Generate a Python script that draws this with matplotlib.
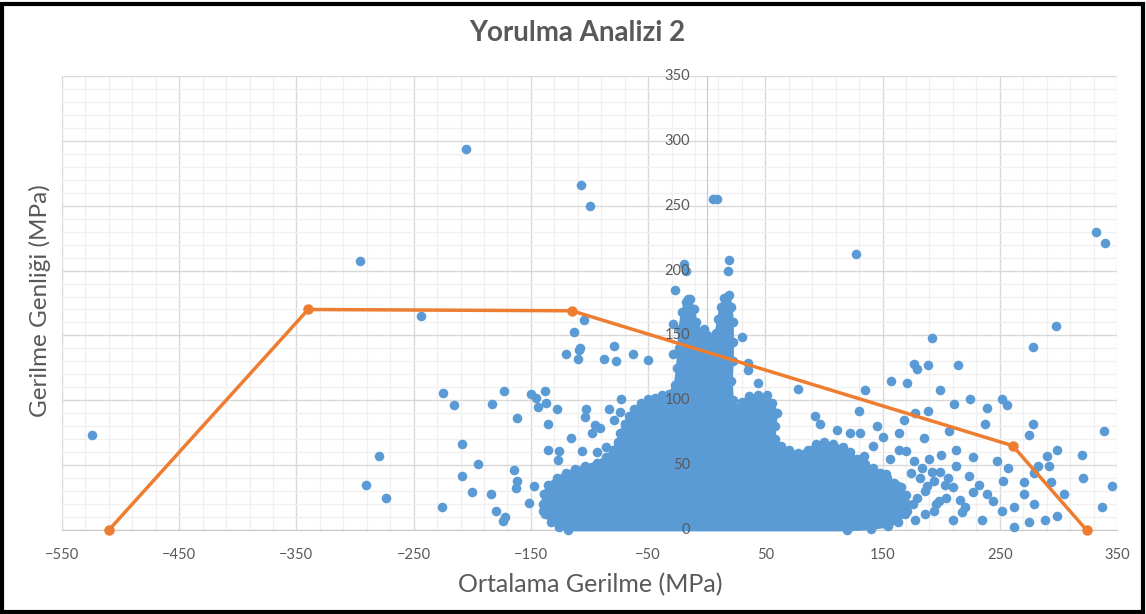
import matplotlib.pyplot as plt
from matplotlib.patches import Rectangle
from matplotlib.transforms import offset_copy

# fatigue limit line (orange)
limit_x = [-510, -340, -115, 261, 324]
limit_y = [0, 170, 169, 65, 0]

# outline of the dense point cloud around zero mean stress
core_x = [-118, -126, -133, -138, -140, -139, -135, -128, -120, -112, -104, -94, -86,
          -80, -76, -74, -70, -66, -62, -56, -50, -44, -38, -32, -27, -25, -24, -23,
          -21, -18, -14, -11, -9, -5, 0, 4, 8, 10, 12, 15, 19, 21, 22, 22, 22, 21, 22,
          25, 30, 36, 44, 51, 56, 60, 58, 58, 63, 70, 78, 86, 93, 100, 108, 116, 122,
          128, 135, 142, 148, 154, 160, 166, 170, 171, 169, 163, 155, 140, 120]
core_y = [0, 2, 6, 12, 20, 28, 35, 40, 44, 47, 49, 52, 56,
          62, 68, 75, 82, 88, 93, 98, 101, 102, 104, 105, 112, 125, 140, 155,
          168, 176, 178, 170, 160, 153, 150, 146, 152, 163, 172, 179, 181, 172, 160, 145, 130, 115, 100,
          94, 99, 103, 104, 104, 98, 90, 80, 70, 65, 62, 59, 62, 66, 68, 66, 64, 60,
          55, 51, 48, 44, 40, 36, 33, 27, 20, 12, 6, 3, 1, 0]

# individual points outside the dense cloud
pts_x = [-524, -296, -205, -107, -100, -244, -105, -113,
         -280, -291, -274, -225, -216, -209, -209, -195, -200, -226, -184, -180, -174, -172,
         -183, -173, -162, -164, -162, -163, -152, -147, -150, -146, -138, -137, -144, -128,
         -135, -135, -126, -127, -116, -106, -94, -86, -104, -103, -98, -95, -91, -83, -74,
         -79, -73, -70, -120, -110, -108, -88, -79, -77, -63, -140, -139, -109, -50, -29,
         5, 9, -19, -18, 19, 18, -27, -16, 17, -29, -2, 30, 35, 35, 44, 78,
         127, 332, 340, 298, 278, 192, 177, 179, 189, 214, 157, 171, 199, 135,
         130, 178, 189, 211, 225, 239, 252, 256, 278, 275, 237, 207, 185, 168, 164, 92, 97,
         299, 320, 339, 321, 346, 337, 305, 292, 299, 289, 275, 262, 248, 257, 253, 271, 279,
         283, 294, 279, 271, 262, 252, 239, 235, 224, 227, 213, 200, 190, 177, 164, 170, 199,
         194, 213, 210, 216, 227, 204, 194, 210, 179, 171, 188, 163, 145, 150, 142, 131, 111,
         122, 102, 134, 156, 153, 139, 290,
         174, 182, 186, 196, 203, 220, 232, 244, 178, 186, 198, 206, 218, 176, 184, 192]
pts_y = [73, 207, 294, 266, 250, 165, 162, 153,
         57, 35, 25, 106, 96, 66, 42, 51, 29, 18, 28, 15, 7, 10,
         97, 107, 86, 46, 38, 32, 21, 34, 105, 102, 107, 98, 95, 93,
         82, 62, 61, 54, 71, 61, 60, 64, 87, 93, 75, 81, 79, 93, 91,
         85, 101, 82, 136, 132, 140, 132, 142, 130, 136, 15, 28, 139, 131, 136,
         255, 255, 205, 200, 208, 200, 185, 178, 180, 159, 155, 149, 129, 123, 113, 109,
         213, 230, 221, 157, 141, 148, 128, 124, 127, 127, 115, 113, 108, 108,
         92, 90, 92, 97, 101, 94, 101, 96, 82, 73, 82, 76, 71, 85, 75, 88, 82,
         62, 58, 76, 40, 34, 18, 28, 49, 11, 8, 6, 2, 53, 48, 38, 37, 44,
         49, 37, 20, 28, 18, 15, 28, 8, 42, 56, 62, 58, 55, 53, 62, 61, 45,
         38, 49, 33, 23, 29, 25, 15, 8, 25, 15, 34, 34, 80, 72, 65, 75, 77,
         75, 65, 57, 55, 43, 37, 57,
         44, 40, 30, 20, 35, 18, 35, 22, 8, 12, 22, 40, 14, 20, 48, 45]

x_ticks = list(range(-550, 351, 100))
y_ticks = list(range(0, 351, 50))

blue = '#5B9BD5'
orange = '#ED7D31'
text_gray = '#595959'

plt.rcParams['font.family'] = ['Lato', 'DejaVu Sans']

fig = plt.figure(figsize=(11.46, 6.14), dpi=100)
ax = fig.add_axes([62 / 1146, 84 / 614, 1055 / 1146, 454 / 614])

ax.set_xlim(-550, 350)
ax.set_ylim(0, 350)
ax.set_xticks(x_ticks)
ax.set_xticks(range(-550, 351, 20), minor=True)
ax.set_yticks(y_ticks)
ax.set_yticks(range(0, 351, 10), minor=True)
ax.set_yticklabels([])
ax.grid(which='major', color='#d9d9d9', lw=1)
ax.grid(which='minor', color='#f0f0f0', lw=1)
ax.set_axisbelow(True)

ax.spines['top'].set_visible(False)
ax.spines['right'].set_visible(False)
ax.spines['left'].set_position(('data', 0))
for side in ['left', 'bottom']:
    ax.spines[side].set_color('#c8c8c8')
    ax.spines[side].set_zorder(1)
ax.tick_params(which='both', length=0)
ax.tick_params(axis='x', pad=13, labelsize=10.5, labelcolor=text_gray)

# y tick labels sit next to the axis at x = 0, drawn above the points
label_tr = offset_copy(ax.transData, fig=fig, x=-12, y=0, units='points')
for v in y_ticks:
    ax.text(0, v, str(v), transform=label_tr, ha='right', va='center',
            fontsize=10.5, color=text_gray, zorder=6, clip_on=False)

ax.fill(core_x, core_y, facecolor=blue, edgecolor=blue, lw=2, joinstyle='round',
        clip_on=False, zorder=2)
ax.scatter(core_x, core_y, s=48, color=blue, lw=0, zorder=3, clip_on=False)
ax.scatter(pts_x, pts_y, s=48, color=blue, lw=0, zorder=3, clip_on=False)
ax.plot(limit_x, limit_y, color=orange, lw=2.5, marker='o', ms=6.5, zorder=4, clip_on=False)

fig.text(577 / 1146, 1 - 33 / 614, 'Yorulma Analizi 2', ha='center', va='center',
         fontsize=20, fontweight='bold', color=text_gray)
fig.text(590 / 1146, 1 - 585 / 614, 'Ortalama Gerilme (MPa)', ha='center', va='center',
         fontsize=18, color=text_gray)
fig.text(40 / 1146, 1 - 301 / 614, 'Gerilme Genliği (MPa)', ha='center', va='center',
         rotation=90, fontsize=17.5, color=text_gray)

fig.patches.append(Rectangle((0.002, 0.004), 0.995, 0.99, transform=fig.transFigure,
                             fill=False, edgecolor='black', lw=3))

fig.savefig('out.png', dpi=100)
